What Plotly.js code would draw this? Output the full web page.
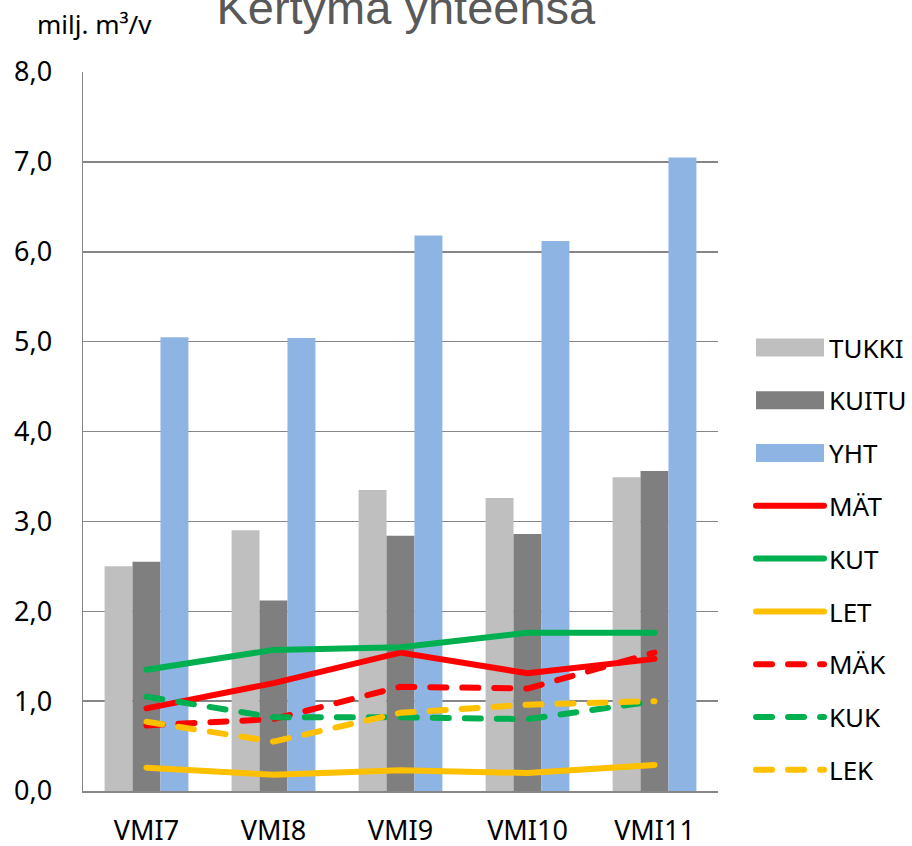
<!DOCTYPE html>
<html><head><meta charset="utf-8">
<script src="https://cdn.plot.ly/plotly-3.0.1.min.js"></script>
<style>html,body{margin:0;padding:0;background:#fff}#chart{width:912px;height:846px}</style>
</head><body><div id="chart"></div>
<script>
const categories = ["VMI7", "VMI8", "VMI9", "VMI10", "VMI11"];
const tukki = [2.50, 2.90, 3.35, 3.26, 3.49];
const kuitu = [2.55, 2.12, 2.84, 2.86, 3.56];
const yht   = [5.05, 5.04, 6.18, 6.12, 7.05];
const mat = [0.92, 1.20, 1.54, 1.31, 1.47];
const kut = [1.35, 1.57, 1.60, 1.76, 1.76];
const let_ = [0.26, 0.18, 0.23, 0.20, 0.29];
const mak = [0.73, 0.80, 1.16, 1.14, 1.54];
const kuk = [1.05, 0.82, 0.82, 0.80, 1.00];
const lek = [0.77, 0.55, 0.87, 0.96, 1.00];
const yTicks = [0, 1, 2, 3, 4, 5, 6, 7, 8];

const FONT = "Noto Sans, Open Sans, sans-serif";
const DASH = "16px,16px";
function bar(name, y, color, g) {
  return {type: "bar", name: name, x: categories, y: y, marker: {color: color}, legendgroup: g, hoverinfo: "none"};
}
function line(name, y, color, dash, g) {
  return {type: "scatter", mode: "lines", name: name, x: categories, y: y, legendgroup: g,
    line: {color: color, width: 6, dash: dash}, hoverinfo: "none"};
}
const traces = [
  bar("TUKKI", tukki, "#BFBFBF", "a"),
  bar("KUITU", kuitu, "#7F7F7F", "b"),
  bar("YHT", yht, "#8EB4E3", "c"),
  line("MÄT", mat, "#FF0000", "solid", "d"),
  line("KUT", kut, "#00B050", "solid", "e"),
  line("LET", let_, "#FFC000", "solid", "f"),
  line("MÄK", mak, "#FF0000", DASH, "g"),
  line("KUK", kuk, "#00B050", DASH, "h"),
  line("LEK", lek, "#FFC000", DASH, "i")
];
const layout = {
  width: 912, height: 846,
  margin: {l: 83, r: 194, t: 72, b: 55, autoexpand: false},
  paper_bgcolor: "#fff", plot_bgcolor: "#fff",
  separators: ", ",
  font: {family: FONT, size: 26, color: "#000"},
  title: {text: "Kertymä yhteensä", font: {family: "Liberation Sans, Arial, sans-serif", size: 47, color: "#595959"},
    x: 0.445, xanchor: "center", y: 0.9911, yanchor: "middle", yref: "container"},
  barmode: "group", bargap: 0.34, bargroupgap: 0,
  xaxis: {type: "category", showline: true, linecolor: "#868686", linewidth: 2, ticks: "",
    tickfont: {size: 27}, showgrid: false, ticklabelstandoff: 15},
  yaxis: {range: [0, 8], tickvals: yTicks, tickformat: ".1f", showline: true, linecolor: "#868686", linewidth: 1.5,
    gridcolor: "#868686", gridwidth: 1.5, zeroline: false, ticks: "", tickfont: {size: 27}, ticklabelstandoff: 24},
  legend: {x: 1.052, xanchor: "left", y: 0.6495, yanchor: "top", tracegroupgap: 16, font: {size: 26},
    itemwidth: 68, bgcolor: "rgba(0,0,0,0)"},
  annotations: [{text: "milj. m³/v", xref: "paper", yref: "paper", x: -0.0756, xanchor: "left",
    y: 1.067, yanchor: "middle", showarrow: false, font: {size: 26, color: "#000"}}]
};
Plotly.newPlot("chart", traces, layout, {staticPlot: true}).then(function () {
  document.querySelectorAll("#chart path.js-line").forEach(function (p) {
    p.style.strokeLinecap = "round";
    p.style.strokeLinejoin = "round";
  });
  document.querySelectorAll("#chart .legend .legendpoints path").forEach(function (p) {
    const d = p.getAttribute("d") || "";
    if (/^M6,6H-6V-6H6Z$/.test(d)) p.setAttribute("d", "M-34,-9H34V9H-34Z");
  });
});
</script></body></html>
